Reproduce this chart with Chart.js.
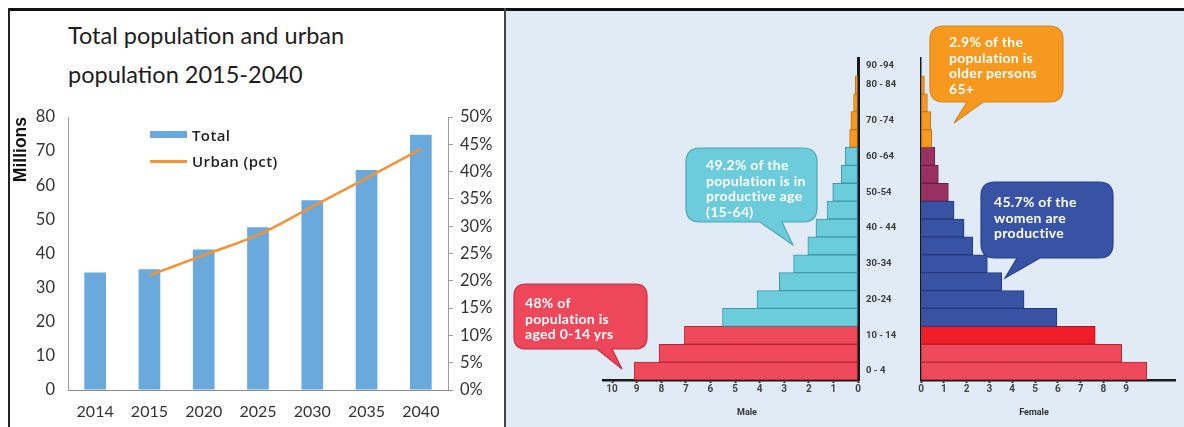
<!DOCTYPE html>
<html>
<head>
<meta charset="utf-8">
<script src="https://cdn.jsdelivr.net/npm/chart.js@4.4.1/dist/chart.umd.min.js"></script>
<style>
  html,body{margin:0;padding:0;background:#fff;}
  #wrap{position:relative;width:1184px;height:427px;overflow:hidden;background:#fff;font-family:Lato,"Open Sans",sans-serif;}
  .abs{position:absolute;}
  canvas{position:absolute;}
  .title{left:68px;top:16px;font-size:23.5px;line-height:39px;color:#1d1d1d;white-space:nowrap;}
  .leg{font-family:"Open Sans",sans-serif;font-weight:600;font-size:15px;color:#222;white-space:nowrap;line-height:18px;letter-spacing:0.4px;}
  .call{color:#fff;font-family:Lato,sans-serif;font-weight:700;font-size:14px;line-height:15.6px;letter-spacing:0.3px;white-space:nowrap;z-index:5;}
  .axt{font-family:Roboto,sans-serif;font-weight:700;font-size:9px;color:#333;}
</style>
</head>
<body>
<div id="wrap">
  <div class="abs" style="left:506px;top:11px;width:678px;height:416px;background:#E1EBF6;"></div>
  <div class="abs" style="left:8px;top:8px;width:1176px;height:3px;background:#111;"></div>
  <div class="abs" style="left:8px;top:8px;width:2px;height:419px;background:#222;"></div>
  <div class="abs" style="left:504px;top:8px;width:2px;height:419px;background:#444;"></div>

  <div class="abs title">Total population and urban<br>population 2015-2040</div>

  <canvas id="cLeft" width="495" height="327" style="left:10px;top:100px;"></canvas>
  <div id="legend"></div>

  <canvas id="cMale" width="323" height="370" style="left:590px;top:50px;"></canvas>
  <canvas id="cFemale" width="273" height="370" style="left:911px;top:50px;"></canvas>

  <svg class="abs" width="1184" height="427" style="left:0;top:0;z-index:4;" id="bubbles"></svg>
  <div id="notes"></div>

  <div class="abs axt" style="left:747px;top:412px;transform:translate(-50%,-50%);">Male</div>
  <div class="abs axt" style="left:1034px;top:412px;transform:translate(-50%,-50%);">Female</div>
</div>

<script>
// ---------------- DATA ----------------
const years = ['2014', '2015', '2020', '2025', '2030', '2035', '2040'];
const totalMillions = [34.4, 35.4, 41.2, 47.7, 55.6, 64.5, 74.8];
const urbanPct = [null, 21.0, 24.7, 28.4, 33.6, 38.8, 44.1];
const leftTickMillions = [0, 10, 20, 30, 40, 50, 60, 70, 80];
const rightTickPct = [0, 5, 10, 15, 20, 25, 30, 35, 40, 45, 50];

const ageGroups = ['0-4','5-9','10-14','15-19','20-24','25-29','30-34','35-39','40-44',
                   '45-49','50-54','55-59','60-64','65-69','70-74','75-79','80-84'];
const maleValues = [9.1, 8.09, 7.06, 5.51, 4.11, 3.2, 2.62, 2.04, 1.71,
                    1.26, 1.03, 0.68, 0.52, 0.34, 0.29, 0.18, 0.11];
const femaleValues = [9.9, 8.8, 7.64, 5.96, 4.52, 3.54, 2.91, 2.27, 1.89,
                      1.45, 1.2, 0.76, 0.61, 0.47, 0.43, 0.28, 0.15];
const ageTickLabels = ['0 - 4','10 - 14','20-24','30-34','40 - 44','50-54','60 -64','70 -74','80 - 84','90 -94'];
const maleTicks = [0,1,2,3,4,5,6,7,8,9,10];
const femaleTicks = [0,1,2,3,4,5,6,7,8,9];

const notes = [
  {lines:['2.9% of the','population is','older persons','65+'], fill:'#F7991F', stroke:'#D5861C',
   box:[930,26,1063,102], r:14, tail:[967,983,954,123], text:[949,42]},
  {lines:['49.2% of the','population is in','productive age','(15-64)'], fill:'#6CCCDC', stroke:'#4DA6B6',
   box:[686,148,817,222], r:14, tail:[760,782,793,245], text:[706,165]},
  {lines:['48% of','population is','aged 0-14 yrs'], fill:'#EE4759', stroke:'#C42E3E',
   box:[514,284,647,349], r:12, tail:[597,612,622,369], text:[525,303]},
  {lines:['45.7% of the','women are','productive'], fill:'#3853A4', stroke:'#2A3F88',
   box:[981,182,1113,258], r:14, tail:[1017,1040,1005,278], text:[994,202]}
];

// ---------------- STYLE ----------------
Chart.defaults.font.family = 'Lato, "Open Sans", sans-serif';
Chart.defaults.animation = false;
const NONE = 'rgba(0,0,0,0)';

const C = {
  red:'#EE4A5B', redB:'#B82635', brightRed:'#EE1D27', brightRedB:'#B3141C',
  cyan:'#6BCCDC', cyanB:'#3F97A7', blue:'#3853A4', blueB:'#24387F',
  purple:'#993263', purpleB:'#6A1E43', orange:'#F7991F', orangeB:'#C27414'
};
function lowerAge(g){ return parseInt(g, 10); }
function midAge(g){ return lowerAge(g) + 2.5; }
function maleFill(g){ const a=lowerAge(g); return a<15?C.red:(a<65?C.cyan:C.orange); }
function maleBorder(g){ const a=lowerAge(g); return a<15?C.redB:(a<65?C.cyanB:C.orangeB); }
function femaleFill(g){ const a=lowerAge(g); return a<10?C.red:(a<15?C.brightRed:(a<50?C.blue:(a<65?C.purple:C.orange))); }
function femaleBorder(g){ const a=lowerAge(g); return a<10?C.redB:(a<15?C.brightRedB:(a<50?C.blueB:(a<65?C.purpleB:C.orangeB))); }

// ---------------- LEFT CHART ----------------
const barColor = '#6AA9DC';
const lineColor = '#F39237';
new Chart(document.getElementById('cLeft'), {
  data: {
    labels: years,
    datasets: [
      {type:'line', label:'Urban (pct)', data: urbanPct, yAxisID:'y1', borderColor: lineColor,
       borderWidth: 2.5, pointRadius: 0, tension: 0.35, fill:false, order: 0},
      {type:'bar', label:'Total', data: totalMillions, yAxisID:'y', backgroundColor: barColor,
       borderWidth: 0, barPercentage: 0.4, categoryPercentage: 1.0, order: 1}
    ]
  },
  options: {
    responsive:false,
    layout:{padding:{top:17,left:0,right:0,bottom:0}},
    plugins:{legend:{display:false}, tooltip:{enabled:false}},
    scales:{
      x:{
        grid:{drawOnChartArea:false, drawTicks:false},
        border:{color:'#8a8a8a', width:1},
        ticks:{font:{size:16}, color:'#333', padding:12},
        afterFit(s){ s.height = 37; }
      },
      y:{
        position:'left', min:0, max:80,
        afterBuildTicks(s){ s.ticks = leftTickMillions.map(v=>({value:v})); },
        grid:{drawOnChartArea:false, drawTicks:true, tickLength:13, tickColor:NONE},
        border:{color:'#9a9a9a', width:1},
        ticks:{font:{size:16.5}, color:'#333', padding:0},
        title:{display:true, text:'Millions', align:'end', color:'#111',
               font:{family:'"Liberation Sans", Arial, sans-serif', size:17.5, weight:'bold'},
               padding:{top:1,bottom:0}},
        afterFit(s){ s.width = 58; }
      },
      y1:{
        position:'right', min:0, max:50,
        afterBuildTicks(s){ s.ticks = rightTickPct.map(v=>({value:v})); },
        grid:{drawOnChartArea:false, drawTicks:true, tickLength:5, color:'#9a9a9a'},
        border:{color:'#9a9a9a', width:1},
        ticks:{font:{size:16.5}, color:'#333', padding:7, callback:(v)=>v+'%'},
        afterFit(s){ s.width = 57; }
      }
    }
  }
});

// HTML legend built from the dataset labels
(function(){
  const lg = document.getElementById('legend');
  lg.innerHTML =
    '<div class="abs" style="left:150px;top:131px;width:37px;height:7px;background:'+barColor+';z-index:3"></div>'+
    '<div class="abs leg" style="left:192px;top:126px;z-index:3">Total</div>'+
    '<div class="abs" style="left:150px;top:160px;width:37px;height:2.5px;background:'+lineColor+';z-index:3"></div>'+
    '<div class="abs leg" style="left:192px;top:152px;z-index:3">Urban (pct)</div>';
})();

// ---------------- PYRAMID ----------------
function pyramidData(values, fillFn, borderFn){
  return {
    datasets:[{
      data: ageGroups.map((g,i)=>({x: values[i], y: midAge(g)})),
      backgroundColor: ageGroups.map(fillFn),
      borderColor: ageGroups.map(borderFn),
      borderWidth: 1, borderSkipped: false,
      barPercentage: 1, categoryPercentage: 1
    }]
  };
}
const AGE_MAX = 90;
const ageAxisTicks = ageTickLabels.map(l => ({value: Math.min(midAge(l), AGE_MAX - 2)}));

new Chart(document.getElementById('cMale'), {
  type:'bar',
  data: pyramidData(maleValues, maleFill, maleBorder),
  options:{
    indexAxis:'y', responsive:false,
    layout:{padding:{top:8,left:13,right:0,bottom:0}},
    plugins:{legend:{display:false}, tooltip:{enabled:false}},
    scales:{
      x:{
        type:'linear', reverse:true, min:0, max:10.37, position:'bottom',
        afterBuildTicks(s){ s.ticks = maleTicks.map(v=>({value:v})); },
        grid:{drawOnChartArea:false, drawTicks:true, tickLength:3, tickWidth:2, tickColor:'#222'},
        border:{color:'#1a1a1a', width:2.5},
        ticks:{font:{family:'Roboto, sans-serif', size:10, weight:'bold'}, color:'#444', padding:0},
        afterFit(s){ s.height = 40; }
      },
      y:{
        type:'linear', position:'right', min:0, max:AGE_MAX, offset:false,
        afterBuildTicks(s){ s.ticks = ageAxisTicks.map(t=>({value:t.value})); },
        grid:{offset:false, drawOnChartArea:false, drawTicks:true, tickLength:8, tickColor:NONE},
        border:{color:'#1a1a1a', width:3},
        ticks:{autoSkip:false, font:{family:'Roboto, sans-serif', size:9.5, weight:'bold'}, color:'#3a3a3a', padding:0,
               callback:(v,i)=>ageTickLabels[i]},
        afterFit(s){ s.width = 55; }
      }
    }
  }
});

new Chart(document.getElementById('cFemale'), {
  type:'bar',
  data: pyramidData(femaleValues, femaleFill, femaleBorder),
  options:{
    indexAxis:'y', responsive:false,
    layout:{padding:{top:8,left:0,right:9,bottom:0}},
    plugins:{legend:{display:false}, tooltip:{enabled:false}},
    scales:{
      x:{
        type:'linear', min:0, max:11.14, position:'bottom',
        afterBuildTicks(s){ s.ticks = femaleTicks.map(v=>({value:v})); },
        grid:{drawOnChartArea:false, drawTicks:true, tickLength:3, tickWidth:2, tickColor:'#222'},
        border:{color:'#1a1a1a', width:2.5},
        ticks:{font:{family:'Roboto, sans-serif', size:10, weight:'bold'}, color:'#444', padding:0},
        afterFit(s){ s.height = 40; }
      },
      y:{
        type:'linear', position:'left', min:0, max:AGE_MAX, offset:false,
        grid:{offset:false, drawOnChartArea:false, drawTicks:false},
        border:{color:'#1a1a1a', width:1.5},
        ticks:{display:false},
        afterFit(s){ s.width = 10; }
      }
    }
  }
});

// ---------------- CALLOUTS ----------------
(function(){
  const svg = document.getElementById('bubbles');
  const holder = document.getElementById('notes');
  let paths = '';
  notes.forEach(n=>{
    const [x0,y0,x1,y1] = n.box, r = n.r, [ba,bb,tx,ty] = n.tail;
    const d = `M${x0+r},${y0} H${x1-r} Q${x1},${y0} ${x1},${y0+r} V${y1-r} Q${x1},${y1} ${x1-r},${y1} `+
              `H${bb} L${tx},${ty} L${ba},${y1} H${x0+r} Q${x0},${y1} ${x0},${y1-r} V${y0+r} Q${x0},${y0} ${x0+r},${y0} Z`;
    paths += `<path d="${d}" fill="${n.fill}" stroke="${n.stroke}" stroke-width="1.2"/>`;
    const div = document.createElement('div');
    div.className = 'abs call';
    div.style.left = n.text[0]+'px';
    div.style.top = (n.text[1]-7.8)+'px';
    div.innerHTML = n.lines.join('<br>');
    holder.appendChild(div);
  });
  svg.innerHTML = paths;
})();
</script>
</body>
</html>
